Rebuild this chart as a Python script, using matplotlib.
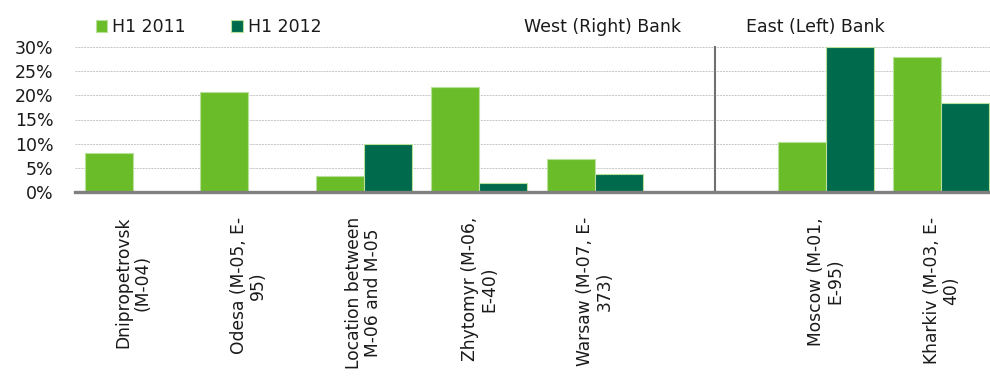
import numpy as np
import matplotlib
matplotlib.use("Agg")
import matplotlib.pyplot as plt
from matplotlib.patches import Patch

plt.rcParams['font.family'] = ['DejaVu Sans']

# data (share of traffic, %)
categories = [
    "Dnipropetrovsk\n(M-04)",
    "Odesa (M-05, E-\n95)",
    "Location between\nM-06 and M-05",
    "Zhytomyr (M-06,\nE-40)",
    "Warsaw (M-07, E-\n373)",
    "",
    "Moscow (M-01,\nE-95)",
    "Kharkiv (M-03, E-\n40)",
]
h1_2011 = [8.0, 20.6, 3.3, 21.8, 6.9, 0.0, 10.4, 27.9]
h1_2012 = [0.0, 0.0, 9.9, 1.9, 3.7, 0.0, 30.0, 18.5]
series_names = ["H1 2011", "H1 2012"]
yticks = [0, 5, 10, 15, 20, 25, 30]
region_labels = ["West (Right) Bank", "East (Left) Bank"]

light = "#6abd28"
dark = "#006b4c"
edge = "#b8e09a"
txt = "#1a1a1a"

fig = plt.figure(figsize=(9.9, 3.81), dpi=100)
ax = fig.add_axes([75/990, 1-192/381, 924/990, 145/381])

x = np.arange(len(categories))
w = 0.415
ax.bar(x - w/2, h1_2011, w, color=light, edgecolor=edge, linewidth=0.8, zorder=3)
ax.bar(x + w/2, h1_2012, w, color=dark, edgecolor=edge, linewidth=0.8, zorder=3)

ax.set_xlim(-0.5, len(categories) - 0.5)
ax.set_ylim(0, 30)
ax.set_yticks(yticks)
ax.set_yticklabels([f"{v}%" for v in yticks])
ax.yaxis.grid(True, color="#c6c6c6", linestyle=(0, (2, 1)), linewidth=0.7, zorder=0)
ax.set_axisbelow(True)

ax.set_xticks(x)
ax.set_xticklabels(categories, rotation=90, ha='center', va='top',
                   multialignment='center', fontsize=12.3, color=txt,
                   linespacing=1.1)
ax.tick_params(axis='x', length=0, pad=18)
ax.tick_params(axis='y', length=0, pad=15.5, labelsize=12.5, labelcolor=txt)

for s in ['top', 'right', 'left']:
    ax.spines[s].set_visible(False)
ax.spines['bottom'].set_color("#808080")
ax.spines['bottom'].set_linewidth(2.4)
ax.spines['bottom'].set_zorder(4)

# divider between the two banks
ax.plot([5.04, 5.04], [0.3, 30], color="#707070", linewidth=1.5, zorder=4, clip_on=False)

handles = [Patch(facecolor=light, edgecolor=edge, linewidth=0.8),
           Patch(facecolor=dark, edgecolor=edge, linewidth=0.8)]
fig.legend(handles, series_names, loc='center left', bbox_to_anchor=(96/990, 1-27/381),
           ncol=2, frameon=False, fontsize=12.5, handlelength=0.65, handleheight=0.65,
           handletextpad=0.3, columnspacing=2.6, borderpad=0, borderaxespad=0,
           labelcolor=txt)

fig.text(603/990, 1-27/381, region_labels[0], ha='center', va='center', fontsize=12.5, color=txt)
fig.text(815/990, 1-27/381, region_labels[1], ha='center', va='center', fontsize=12.5, color=txt)

fig.savefig("out.png", dpi=100)
